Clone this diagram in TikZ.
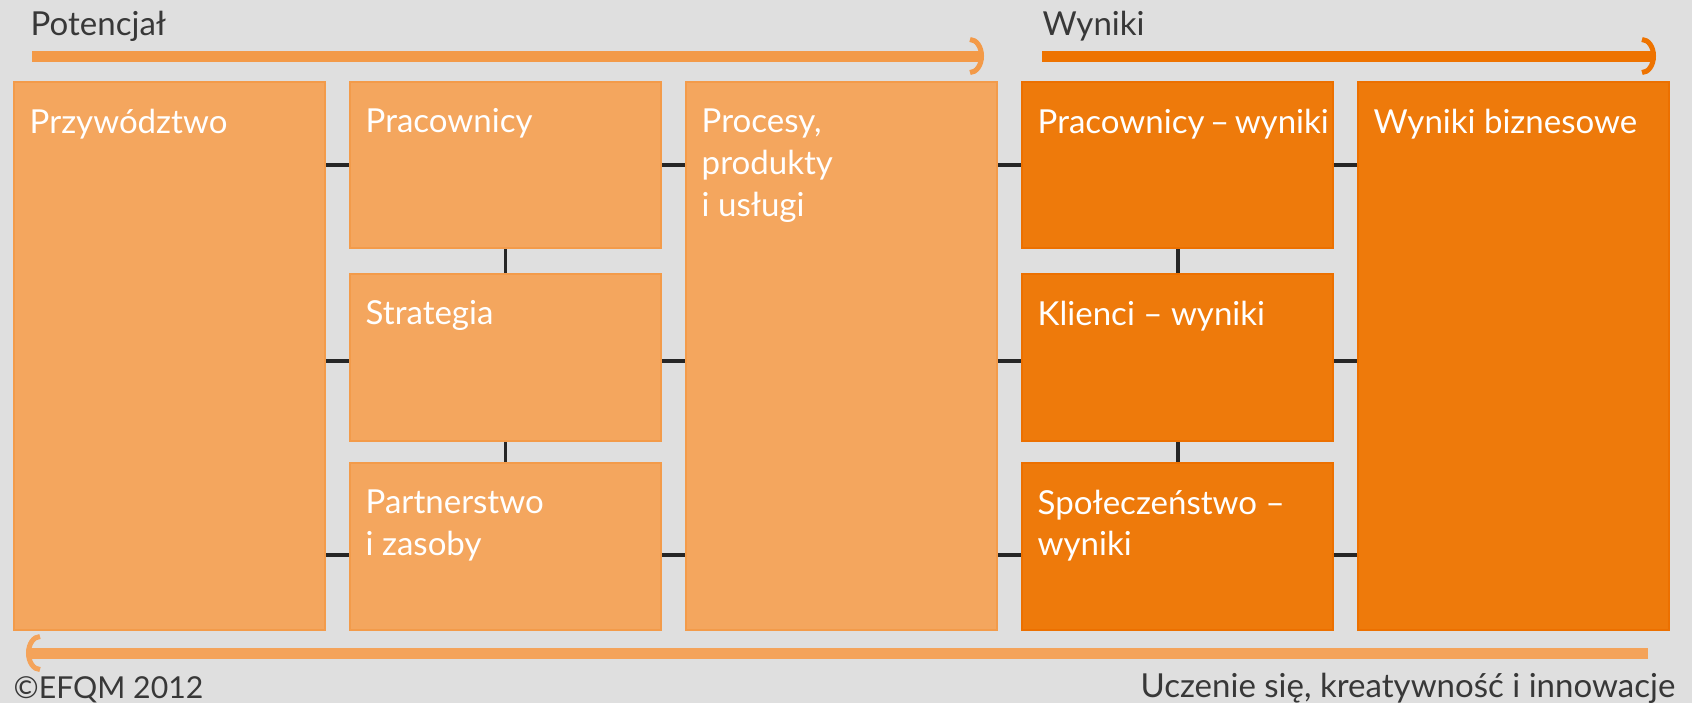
\documentclass[tikz,border=0pt]{standalone}
\usepackage{fontspec}
\setmainfont{Lato}
\usetikzlibrary{arrows.meta}
\definecolor{bggray}{HTML}{DFDFDF}
\definecolor{lightor}{HTML}{F4A65E}
\definecolor{lightorline}{HTML}{F39B4A}
\definecolor{darkor}{HTML}{EE7A0B}
\definecolor{darkorline}{HTML}{EC7000}
\definecolor{potarrow}{HTML}{F39A48}
\definecolor{resarrow}{HTML}{EE7300}
\definecolor{learnarrow}{HTML}{F4A35A}
\definecolor{labelgray}{HTML}{383838}

\begin{document}
\begin{tikzpicture}[x=1cm,y=-1cm,
  every node/.style={font=\fontsize{9.4}{11.9}\selectfont},
  potbox/.style={draw=lightorline,fill=lightor,line width=0.6pt,anchor=north west,inner sep=0,minimum width=3.11cm},
  resbox/.style={potbox,draw=darkorline,fill=darkor},
  boxtext/.style={text=white,anchor=north west,inner sep=0,align=left},
  sidetext/.style={text=labelgray,inner sep=0},
  link/.style={line width=1.1pt,draw=black!85},
  flow/.style={line width=0.11cm,-{Arc Barb[length=0.14cm,width=0.38cm,line width=0.05cm]}}]
  \useasboundingbox[fill=bggray] (0,0) rectangle (16.92,7.03);

  \node (przyw) [potbox,minimum height=5.48cm] at (0.13,0.81) {};
  \node (pa1) [potbox,minimum height=1.66cm] at (3.49,0.81) {};
  \node (pa2) [potbox,minimum height=1.67cm] at (3.49,2.73) {};
  \node (pa3) [potbox,minimum height=1.67cm] at (3.49,4.62) {};
  \node (proc) [potbox,minimum height=5.48cm] at (6.85,0.81) {};
  \node (pb1) [resbox,minimum height=1.66cm] at (10.21,0.81) {};
  \node (pb2) [resbox,minimum height=1.67cm] at (10.21,2.73) {};
  \node (pb3) [resbox,minimum height=1.67cm] at (10.21,4.62) {};
  \node (biz) [resbox,minimum height=5.48cm] at (13.57,0.81) {};

  \node (przywt) [boxtext] at ([xshift=0.16cm,yshift=-0.27cm]przyw.north west) {Przywództwo};
  \node (pa1t) [boxtext] at ([xshift=0.16cm,yshift=-0.27cm]pa1.north west) {Pracownicy};
  \node (pa2t) [boxtext] at ([xshift=0.16cm,yshift=-0.27cm]pa2.north west) {Strategia};
  \node (pa3t) [boxtext] at ([xshift=0.16cm,yshift=-0.27cm]pa3.north west) {Partnerstwo\\i zasoby};
  \node (proct) [boxtext] at ([xshift=0.16cm,yshift=-0.27cm]proc.north west) {Procesy,\\produkty\\i usługi};
  \node (pb1t) [boxtext] at ([xshift=0.16cm,yshift=-0.27cm]pb1.north west) {Pracownicy\,--\,wyniki};
  \node (pb2t) [boxtext] at ([xshift=0.16cm,yshift=-0.27cm]pb2.north west) {Klienci -- wyniki};
  \node (pb3t) [boxtext] at ([xshift=0.16cm,yshift=-0.27cm]pb3.north west) {Społeczeństwo --\\wyniki};
  \node (bizt) [boxtext] at ([xshift=0.16cm,yshift=-0.27cm]biz.north west) {Wyniki biznesowe};

  \path ([yshift=0cm]pa1.west) coordinate (la1)
        ([yshift=-0.03cm]pa2.west) coordinate (la2)
        ([yshift=-0.08cm]pa3.west) coordinate (la3)
        ([yshift=0cm]pb1.west) coordinate (lb1)
        ([yshift=-0.03cm]pb2.west) coordinate (lb2)
        ([yshift=-0.08cm]pb3.west) coordinate (lb3);
  \draw[link] (przyw.east |- la1) -- (la1);
  \draw[link] (przyw.east |- la2) -- (la2);
  \draw[link] (przyw.east |- la3) -- (la3);
  \draw[link] (pa1.east |- la1) -- (proc.west |- la1);
  \draw[link] (pa2.east |- la2) -- (proc.west |- la2);
  \draw[link] (pa3.east |- la3) -- (proc.west |- la3);
  \draw[link] (proc.east |- lb1) -- (lb1);
  \draw[link] (proc.east |- lb2) -- (lb2);
  \draw[link] (proc.east |- lb3) -- (lb3);
  \draw[link] (pb1.east |- lb1) -- (biz.west |- lb1);
  \draw[link] (pb2.east |- lb2) -- (biz.west |- lb2);
  \draw[link] (pb3.east |- lb3) -- (biz.west |- lb3);
  \draw[link] (pa1.south) -- (pa2.north);
  \draw[link] (pa2.south) -- (pa3.north);
  \draw[link] (pb1.south) -- (pb2.north);
  \draw[link] (pb2.south) -- (pb3.north);

  \node (pot) [sidetext,anchor=base west] at (0.30,0.35) {Potencjał};
  \node (wyn) [sidetext,anchor=base west] at (10.42,0.35) {Wyniki};
  \node (learn) [sidetext,anchor=base east] at (16.76,6.97) {Uczenie się, kreatywność i innowacje};
  \node (copy) [sidetext,anchor=base west,font=\fontsize{8.6}{10}\selectfont] at (0.13,6.98) {©EFQM 2012};
  \coordinate (potS) at (0.32,0.56);
  \coordinate (potE) at (9.84,0.56);
  \coordinate (wynS) at (10.42,0.56);
  \coordinate (wynE) at (16.56,0.56);
  \coordinate (learnS) at (16.48,6.53);
  \coordinate (learnE) at (0.26,6.53);
  \draw[flow,draw=potarrow] (potS) -- (potE);
  \draw[flow,draw=resarrow] (wynS) -- (wynE);
  \draw[flow,draw=learnarrow] (learnS) -- (learnE);
\end{tikzpicture}
\end{document}
